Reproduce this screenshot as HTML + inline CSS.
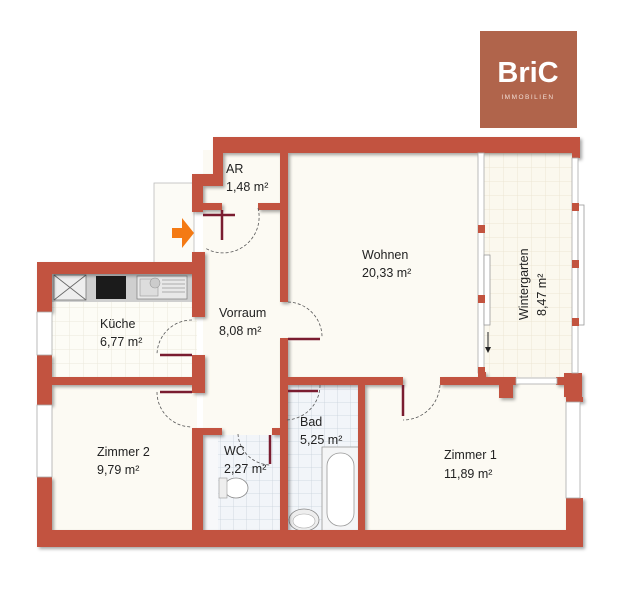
<!DOCTYPE html>
<html><head><meta charset="utf-8"><style>
html,body{margin:0;padding:0;background:#fff;}
svg{display:block;}
text{font-family:"Liberation Sans",sans-serif;fill:#222;}
</style></head><body>
<svg width="639" height="600" viewBox="0 0 639 600" xmlns="http://www.w3.org/2000/svg">
<defs>
<pattern id="tile" width="14" height="14" patternUnits="userSpaceOnUse"><rect width="14" height="14" fill="#fbf8ee"/><path d="M14 0V14H0" fill="none" stroke="#ece6d4" stroke-width="1"/></pattern>
<pattern id="wtile" width="13" height="13" patternUnits="userSpaceOnUse"><rect width="13" height="13" fill="#f2f5f9"/><path d="M13 0V13H0" fill="none" stroke="#c9d2dc" stroke-width="0.8"/></pattern>
<pattern id="ktile" width="14" height="14" patternUnits="userSpaceOnUse"><rect width="14" height="14" fill="#fdfcf6"/><path d="M14 0V14H0" fill="none" stroke="#ece9dc" stroke-width="1"/></pattern>
<filter id="sh" x="-5%" y="-5%" width="110%" height="110%"><feDropShadow dx="2" dy="2" stdDeviation="1.5" flood-color="#000" flood-opacity="0.35"/></filter>
</defs>
<!-- logo -->
<rect x="480" y="31" width="97" height="97" fill="#b0644b"/>
<text x="528" y="82" text-anchor="middle" font-size="29" font-weight="bold" style="fill:#fff">BriC</text>
<text x="528" y="99" text-anchor="middle" font-size="6.5" letter-spacing="1.5" style="fill:#f1ddd5">IMMOBILIEN</text>

<!-- entrance area -->
<rect x="154" y="183" width="40" height="80" fill="#fcfbf6" stroke="#bbb" stroke-width="0.8"/>
<!-- floors -->
<rect x="203" y="150" width="375" height="385" fill="#fcfaf3"/>
<rect x="52" y="273" width="145" height="110" fill="url(#ktile)"/>
<rect x="52" y="383" width="145" height="150" fill="#fcfaf3"/>
<rect x="484" y="152" width="90" height="225" fill="url(#tile)"/>
<rect x="203" y="435" width="78" height="97" fill="url(#wtile)"/>
<rect x="203" y="435" width="15" height="97" fill="#f7f8fa"/>
<rect x="286" y="385" width="74" height="147" fill="url(#wtile)"/>
<!-- kitchen counter -->
<rect x="52" y="273" width="140" height="29" fill="#cfcfcf"/>
<rect x="54" y="275" width="32" height="25" fill="#eee" stroke="#777" stroke-width="0.8"/>
<path d="M54 275L86 300M86 275L54 300" stroke="#666" stroke-width="0.8"/>
<rect x="96" y="276" width="30" height="23" fill="#1b1b1b"/>
<rect x="137" y="276" width="50" height="23" fill="#e8e8e8" stroke="#888" stroke-width="0.8"/>
<rect x="140" y="279" width="18" height="17" fill="#ddd" stroke="#999" stroke-width="0.6"/>
<circle cx="155" cy="283" r="5" fill="#ccc" stroke="#999" stroke-width="0.6"/>
<path d="M162 280H185M162 284H185M162 288H185M162 292H185" stroke="#999" stroke-width="0.8"/>
<!-- bath fixtures -->
<rect x="322" y="447" width="37" height="84" fill="#f4f5f6" stroke="#999" stroke-width="0.8"/>
<rect x="327" y="453" width="27" height="73" rx="13" fill="#fff" stroke="#999" stroke-width="0.8"/>
<ellipse cx="304" cy="520" rx="15" ry="11" fill="#eee" stroke="#888" stroke-width="0.8"/>
<ellipse cx="304" cy="521" rx="11" ry="7" fill="#fff" stroke="#aaa" stroke-width="0.6"/>
<ellipse cx="236" cy="488" rx="12" ry="10" fill="#fff" stroke="#888" stroke-width="0.8"/>
<rect x="219" y="478" width="8" height="20" fill="#eee" stroke="#999" stroke-width="0.6"/>

<!-- walls -->
<g fill="#c2533f" filter="url(#sh)">
<rect x="213" y="137" width="367" height="16"/>
<rect x="572" y="137" width="8" height="21"/>
<rect x="213" y="137" width="10" height="48"/>
<rect x="192" y="174" width="31" height="12"/>
<rect x="192" y="174" width="11" height="38"/>
<rect x="203" y="203" width="19" height="7"/>
<rect x="258" y="203" width="25" height="7"/>
<rect x="280" y="150" width="8" height="152"/>
<rect x="192" y="252" width="13" height="65"/>
<rect x="37" y="262" width="168" height="12"/>
<rect x="37" y="262" width="15" height="50"/>
<rect x="37" y="355" width="15" height="50"/>
<rect x="37" y="477" width="15" height="70"/>
<rect x="192" y="355" width="13" height="38"/>
<rect x="52" y="377" width="151" height="8"/>
<rect x="280" y="338" width="8" height="192"/>
<rect x="192" y="428" width="11" height="105"/>
<rect x="192" y="428" width="30" height="7"/>
<rect x="272" y="428" width="14" height="7"/>
<rect x="280" y="377" width="123" height="8"/>
<rect x="358" y="377" width="7" height="155"/>
<rect x="440" y="377" width="76" height="8"/>
<rect x="499" y="377" width="14" height="21"/>
<rect x="478" y="372" width="8" height="8"/>
<rect x="556" y="377" width="10" height="8"/>
<rect x="564" y="373" width="18" height="24"/>
<rect x="566" y="397" width="17" height="5"/>
<rect x="566" y="498" width="17" height="49"/>
<rect x="37" y="530" width="546" height="17"/>
</g>
<!-- windows / glass -->
<rect x="37" y="312" width="15" height="43" fill="#fff" stroke="#aaa" stroke-width="0.8"/>
<rect x="37" y="405" width="15" height="72" fill="#fff" stroke="#aaa" stroke-width="0.8"/>
<rect x="566" y="402" width="14" height="96" fill="#fff" stroke="#aaa" stroke-width="0.8"/>
<rect x="516" y="378" width="41" height="6" fill="#fff" stroke="#aaa" stroke-width="0.8"/>
<rect x="478" y="153" width="6" height="220" fill="#fff" stroke="#aaa" stroke-width="0.8"/>
<rect x="484" y="255" width="6" height="70" fill="#fff" stroke="#999" stroke-width="0.8"/>
<rect x="572" y="158" width="6" height="215" fill="#fff" stroke="#aaa" stroke-width="0.8"/>
<rect x="578" y="205" width="6" height="120" fill="#fff" stroke="#999" stroke-width="0.8"/>
<g fill="#c2533f"><rect x="478" y="225" width="7" height="8"/><rect x="478" y="295" width="7" height="8"/><rect x="478" y="367" width="7" height="8"/><rect x="572" y="203" width="7" height="8"/><rect x="572" y="260" width="7" height="8"/><rect x="572" y="318" width="7" height="8"/></g>
<path d="M488 332V350" stroke="#222" stroke-width="1"/><path d="M485 347L488 353L491 347Z" fill="#222"/>

<!-- door arcs -->
<g fill="none" stroke="#555" stroke-width="0.8" stroke-dasharray="3,2">
<path d="M258 208 A36 36 0 0 1 205 248"/>
<path d="M192 320 A35 35 0 0 0 157 355"/>
<path d="M157 392 A35 35 0 0 0 192 427"/>
<path d="M288 302 A35 35 0 0 1 322 338"/>
<path d="M320 385 A35 35 0 0 1 286 420"/>
<path d="M440 385 A37 37 0 0 1 403 420"/>
<path d="M238 434 A33 33 0 0 0 270 465"/>
</g>
<!-- door leaves -->
<g stroke="#7a1c30" stroke-width="2.5" fill="none">
<path d="M203 215H235"/><path d="M222 210V240"/>
<path d="M192 355H160"/><path d="M192 392H160"/>
<path d="M288 339H320"/><path d="M288 391H318"/>
<path d="M403 385V416"/><path d="M270 435V464"/>
</g>
<!-- orange arrow -->
<path d="M172 228H182V218L194 233L182 248V238H172Z" fill="#f47a14"/>

<!-- labels -->
<g font-size="12.5">
<text x="226" y="173">AR</text><text x="226" y="191">1,48 m²</text>
<text x="219" y="317">Vorraum</text><text x="219" y="335">8,08 m²</text>
<text x="100" y="328">Küche</text><text x="100" y="346">6,77 m²</text>
<text x="362" y="259">Wohnen</text><text x="362" y="277">20,33 m²</text>
<text x="97" y="456">Zimmer 2</text><text x="97" y="474">9,79 m²</text>
<text x="224" y="455">WC</text><text x="224" y="473">2,27 m²</text>
<text x="300" y="426">Bad</text><text x="300" y="444">5,25 m²</text>
<text x="444" y="459">Zimmer 1</text><text x="444" y="478">11,89 m²</text>
<text transform="translate(528,320) rotate(-90)">Wintergarten</text>
<text transform="translate(546,316) rotate(-90)">8,47 m²</text>
</g>
</svg>
</body></html>
